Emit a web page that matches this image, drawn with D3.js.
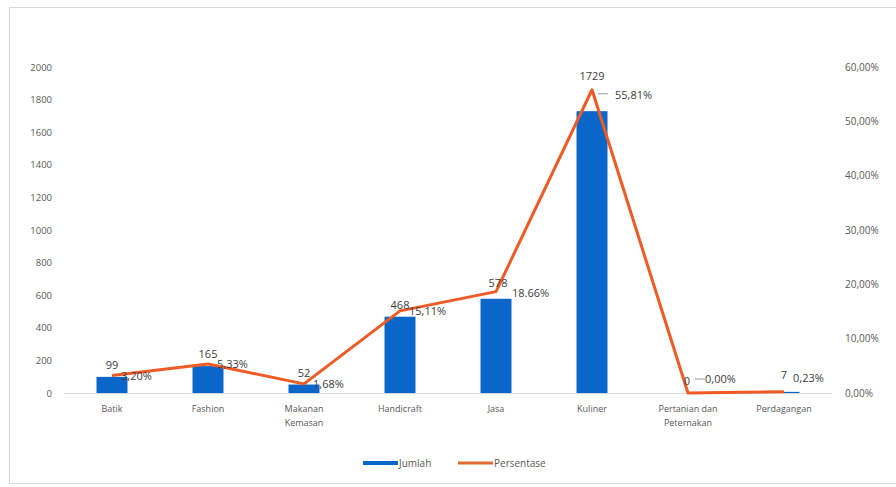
<!DOCTYPE html>
<html>
<head>
<meta charset="utf-8">
<script src="https://cdn.jsdelivr.net/npm/d3@7"></script>
<style>
  body { margin: 0; background: #fff; }
  svg text { font-family: "Open Sans", "DejaVu Sans", sans-serif; }
</style>
</head>
<body>
<div class="container"></div>
<script>
// chart data
var categories = ["Batik", "Fashion", "Makanan Kemasan", "Handicraft", "Jasa", "Kuliner", "Pertanian dan Peternakan", "Perdagangan"];
var jumlah = [99, 165, 52, 468, 578, 1729, 0, 7];
var persentase = [3.20, 5.33, 1.68, 15.11, 18.66, 55.81, 0.00, 0.23];
var persenLabels = ["3,20%", "5,33%", "1,68%", "15,11%", "18.66%", "55,81%", "0,00%", "0,23%"];
var leftTicks = [0, 200, 400, 600, 800, 1000, 1200, 1400, 1600, 1800, 2000];
var rightTicks = [0, 10, 20, 30, 40, 50, 60];

const WIDTH = 896;
const HEIGHT = 487;
const LEFT = 64, RIGHT = 832, TOP = 67, BOTTOM = 393;

var translate = function(x, y){
  return "translate(" + x + "," + y + ")";
};

var svg = d3.select(".container").append("svg")
  .attr("width", WIDTH)
  .attr("height", HEIGHT);

// outer frame
svg.append("rect")
  .attr("x", 9.5).attr("y", 7.5)
  .attr("width", 900).attr("height", 476)
  .attr("fill", "#fff")
  .attr("stroke", "#d9d9d9");

var xScale = d3.scaleBand()
  .domain(categories)
  .range([LEFT, RIGHT]);

var yLeft = d3.scaleLinear().domain([0, 2000]).range([BOTTOM, TOP]);
var yRight = d3.scaleLinear().domain([0, 60]).range([BOTTOM, TOP]);

var cx = function(c){ return xScale(c) + xScale.bandwidth() / 2; };

// left axis
var leftAxis = svg.append("g")
  .attr("transform", translate(LEFT - 12, 0))
  .call(d3.axisLeft(yLeft).tickValues(leftTicks).tickSize(0).tickPadding(0).tickFormat(d3.format("d")));
leftAxis.select(".domain").remove();
leftAxis.selectAll("text")
  .attr("fill", "#595959")
  .style("font-size", "9.5px");

// right axis
var rightAxis = svg.append("g")
  .attr("transform", translate(RIGHT + 13, 0))
  .call(d3.axisRight(yRight).tickValues(rightTicks).tickSize(0).tickPadding(0)
    .tickFormat(function(d){ return d3.format(".2f")(d).replace(".", ",") + "%"; }));
rightAxis.select(".domain").remove();
rightAxis.selectAll("text")
  .attr("fill", "#595959")
  .style("font-size", "10px");

// baseline
svg.append("line")
  .attr("x1", LEFT).attr("x2", RIGHT)
  .attr("y1", BOTTOM + 0.5).attr("y2", BOTTOM + 0.5)
  .attr("stroke", "#d9d9d9");

// x labels
var xAxis = svg.append("g")
  .attr("transform", translate(0, BOTTOM))
  .call(d3.axisBottom(xScale).tickSize(0).tickPadding(0));
xAxis.select(".domain").remove();
xAxis.selectAll(".tick text").remove();
xAxis.selectAll(".tick").each(function(d){
  var words = d.split(" ");
  var lines = [];
  if (words.length > 2) { lines = [words.slice(0, 2).join(" "), words.slice(2).join(" ")]; }
  else if (words.length == 2) { lines = words; }
  else { lines = [d]; }
  var t = d3.select(this).append("text")
    .attr("fill", "#595959")
    .attr("text-anchor", "middle")
    .style("font-size", "9px");
  lines.forEach(function(l, i){
    t.append("tspan").attr("x", 0).attr("y", 19 + i * 14).text(l);
  });
});

// bars
var barW = 31;
svg.selectAll("rect.bar").data(jumlah)
  .enter().append("rect")
  .attr("class", "bar")
  .attr("x", function(d, i){ return cx(categories[i]) - barW / 2; })
  .attr("y", function(d){ return yLeft(d); })
  .attr("width", barW)
  .attr("height", function(d){ return BOTTOM - yLeft(d); })
  .attr("fill", "#0a66c8");

// line
var line = d3.line()
  .x(function(d, i){ return cx(categories[i]); })
  .y(function(d){ return yRight(d); });

svg.append("path")
  .datum(persentase)
  .attr("d", line)
  .attr("fill", "none")
  .attr("stroke", "#f05a24")
  .attr("stroke-width", 3)
  .attr("stroke-linejoin", "round");

// value labels
svg.selectAll("text.val").data(jumlah)
  .enter().append("text")
  .attr("class", "val")
  .attr("x", function(d, i){
    var off = 0;
    if (i == 4) off = 2;
    if (i == 6) off = -1;
    return cx(categories[i]) + off;
  })
  .attr("y", function(d, i){
    if (i == 4) return yLeft(d) - 12;
    if (i == 5) return yRight(persentase[i]) - 10;
    if (i == 6) return yLeft(0) - 8;
    if (i == 7) return yLeft(0) - 14;
    return yLeft(d) - 8;
  })
  .attr("text-anchor", "middle")
  .attr("fill", "#404040")
  .style("font-size", "11px")
  .text(function(d){ return d; });

// percent labels
svg.selectAll("text.pct").data(persentase)
  .enter().append("text")
  .attr("class", "pct")
  .attr("x", function(d, i){
    var off = 9;
    if (i == 4) off = 16;
    if (i == 5) off = 23;
    if (i == 6) off = 17;
    return cx(categories[i]) + off;
  })
  .attr("y", function(d, i){
    var dy = 4;
    if (i == 4) dy = 5;
    if (i == 5) dy = 9;
    if (i == 6) dy = -10;
    if (i == 7) dy = -10;
    return yRight(d) + dy;
  })
  .attr("fill", "#404040")
  .style("font-size", "11px")
  .text(function(d, i){ return persenLabels[i]; });

// leader lines for percent labels
[5, 6].forEach(function(i){
  var x0 = cx(categories[i]);
  var y0 = yRight(persentase[i]);
  var yy = i == 5 ? y0 + 4 : y0 - 14;
  var xs = i == 5 ? x0 + 6 : x0 + 7;
  svg.append("line")
    .attr("x1", xs).attr("x2", xs + 10)
    .attr("y1", yy).attr("y2", yy)
    .attr("stroke", "#7f7f7f").attr("stroke-width", 0.8);
});

// legend
var legend = svg.append("g").attr("transform", translate(363, 463));
legend.append("line")
  .attr("x1", 0).attr("x2", 35).attr("y1", 0).attr("y2", 0)
  .attr("stroke", "#0a66c8").attr("stroke-width", 4);
legend.append("text")
  .attr("x", 36).attr("y", 4)
  .attr("fill", "#595959").style("font-size", "10px")
  .text("Jumlah");
legend.append("line")
  .attr("x1", 95).attr("x2", 130).attr("y1", 0).attr("y2", 0)
  .attr("stroke", "#e46c30").attr("stroke-width", 3);
legend.append("text")
  .attr("x", 131).attr("y", 4)
  .attr("fill", "#595959").style("font-size", "10px")
  .text("Persentase");
</script>
</body>
</html>
